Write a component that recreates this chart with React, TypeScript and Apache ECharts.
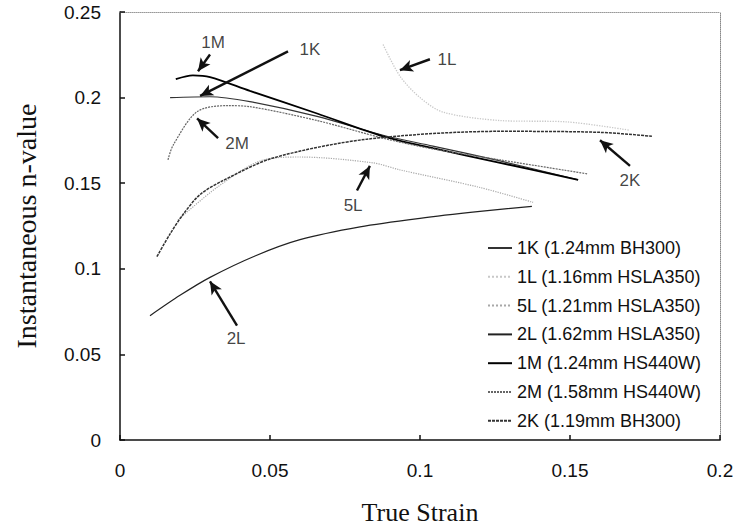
import React, { useEffect, useRef } from "react";
import * as echarts from "echarts";

const xTicks = [0, 0.05, 0.1, 0.15, 0.2];
const yTicks = [0, 0.05, 0.1, 0.15, 0.2, 0.25];

const names = [
  "1K (1.24mm BH300)",
  "1L (1.16mm HSLA350)",
  "5L (1.21mm HSLA350)",
  "2L (1.62mm HSLA350)",
  "1M (1.24mm HS440W)",
  "2M (1.58mm HS440W)",
  "2K (1.19mm BH300)",
];

const data1K = [[0.0167, 0.2], [0.03, 0.2005], [0.0433, 0.1976], [0.0657, 0.189], [0.0877, 0.178], [0.1043, 0.1717], [0.1267, 0.163], [0.1527, 0.152]];
const data1L = [[0.0877, 0.231], [0.0933, 0.2126], [0.1, 0.2], [0.1077, 0.1915], [0.1267, 0.1866], [0.149, 0.1858], [0.17, 0.1809]];
const data5L = [[0.0193, 0.1285], [0.0323, 0.1475], [0.0467, 0.163], [0.06, 0.1653], [0.0843, 0.1619], [0.0933, 0.1578], [0.12, 0.1475], [0.1377, 0.1388]];
const data2L = [[0.01, 0.0726], [0.02, 0.0845], [0.03, 0.095], [0.045, 0.1075], [0.06, 0.117], [0.08, 0.1245], [0.1, 0.1295], [0.12, 0.1335], [0.1373, 0.1365]];
const data1M = [[0.0186, 0.2108], [0.0243, 0.213], [0.03, 0.212], [0.0433, 0.2039], [0.0657, 0.1907], [0.0877, 0.1774], [0.1043, 0.1705], [0.1267, 0.1619], [0.1527, 0.152]];
const data2M = [[0.016, 0.1636], [0.0177, 0.1722], [0.0257, 0.1918], [0.0357, 0.1953], [0.0433, 0.1947], [0.0657, 0.1866], [0.0877, 0.1763], [0.1043, 0.17], [0.1267, 0.1636], [0.1557, 0.1555]];
const data2K = [[0.0123, 0.1071], [0.0167, 0.1204], [0.021, 0.1317], [0.0267, 0.1434], [0.0343, 0.1515], [0.051, 0.1647], [0.0823, 0.1757], [0.1267, 0.1803], [0.16, 0.1797], [0.1773, 0.1774]];

// annotations: label text, label position, arrow tail, arrow head (data coords)
const annLabels = ["1M", "1K", "1L", "2M", "5L", "2K", "2L"];
const annText = [[0.031, 0.2321], [0.0633, 0.2281], [0.109, 0.2224], [0.039, 0.1734], [0.0777, 0.1371], [0.17, 0.1515], [0.0387, 0.0593]];
const annTail = [[0.03, 0.2252], [0.056, 0.227], [0.1033, 0.2224], [0.0327, 0.1763], [0.079, 0.1457], [0.17, 0.1601], [0.039, 0.0668]];
const annHead = [[0.026, 0.2154], [0.0267, 0.201], [0.0933, 0.216], [0.0257, 0.1878], [0.0833, 0.1601], [0.16, 0.1751], [0.03, 0.0927]];

const seriesData = [data1K, data1L, data5L, data2L, data1M, data2M, data2K];
const styles = [
  { color: "#333", width: 1.2, type: "solid" },
  { color: "#c8c8c8", width: 1.3, type: "dotted" },
  { color: "#a8a8a8", width: 1.2, type: "dotted" },
  { color: "#222", width: 1.2, type: "solid" },
  { color: "#000", width: 1.8, type: "solid" },
  { color: "#666", width: 1.2, type: [2, 1] },
  { color: "#333", width: 1.5, type: [3, 1] },
];

export default function App() {
  const ref = useRef<HTMLDivElement>(null);
  useEffect(() => {
    if (!ref.current) return;
    const chart = echarts.init(ref.current, null, { renderer: "svg" });
    const sans = "Liberation Sans";
    const serif = "Liberation Serif";
    const lineSeries = names.map((n, i) => ({
      name: n,
      type: "line",
      data: seriesData[i],
      smooth: 0.3,
      symbol: "none",
      showSymbol: false,
      lineStyle: styles[i],
      itemStyle: { color: styles[i].color },
      xAxisIndex: 0,
      yAxisIndex: 0,
      silent: true,
      z: 2,
    }));
    const annSeries = {
      name: "annotations",
      type: "scatter",
      xAxisIndex: 0,
      yAxisIndex: 0,
      symbolSize: 0,
      silent: true,
      data: annLabels.map((t, i) => ({ value: annText[i], name: t })),
      label: {
        show: true,
        position: "inside",
        formatter: (p: any) => p.name,
        color: "#111",
        fontSize: 17,
        fontFamily: sans,
      },
      markLine: {
        silent: true,
        symbol: ["none", "arrow"],
        symbolSize: [9, 13],
        lineStyle: { color: "#111", width: 2.4, type: "solid" },
        label: { show: false },
        data: annTail.map((t, i) => [{ coord: t }, { coord: annHead[i] }]),
      },
    };
    chart.setOption({
      animation: false,
      grid: { left: 120, right: 17, top: 12, bottom: 84, containLabel: false },
      legend: {
        data: names,
        orient: "vertical",
        left: 487,
        top: 239,
        padding: 0,
        itemWidth: 24,
        itemHeight: 14,
        itemGap: 10.8,
        itemStyle: { opacity: 0 },
        textStyle: { fontSize: 18, fontFamily: sans, color: "#111" },
        selectedMode: false,
      },
      xAxis: [
        {
          type: "value",
          min: xTicks[0],
          max: xTicks[xTicks.length - 1],
          interval: 0.05,
          name: "True Strain",
          nameLocation: "middle",
          nameGap: 59,
          nameTextStyle: { fontSize: 26, fontFamily: serif, color: "#111" },
          axisLine: { lineStyle: { color: "#111", width: 1.5 } },
          axisTick: { inside: true, length: 5, lineStyle: { color: "#111", width: 1.5 } },
          axisLabel: { margin: 21, fontSize: 19, fontFamily: sans, color: "#111" },
          splitLine: { show: false },
        },
        {
          type: "value",
          position: "top",
          min: xTicks[0],
          max: xTicks[xTicks.length - 1],
          axisLine: { show: true, onZero: false, lineStyle: { color: "#999", width: 1, type: "dotted" } },
          axisTick: { show: false },
          axisLabel: { show: false },
          splitLine: { show: false },
        },
      ],
      yAxis: [
        {
          type: "value",
          min: yTicks[0],
          max: yTicks[yTicks.length - 1],
          interval: 0.05,
          name: "Instantaneous n-value",
          nameLocation: "middle",
          nameGap: 80,
          nameRotate: 90,
          nameTextStyle: { fontSize: 28, fontFamily: serif, color: "#111" },
          axisLine: { show: true, lineStyle: { color: "#111", width: 1.5 } },
          axisTick: { show: true, inside: true, length: 5, lineStyle: { color: "#111", width: 1.5 } },
          axisLabel: { margin: 19, fontSize: 19, fontFamily: sans, color: "#111" },
          splitLine: { show: false },
        },
        {
          type: "value",
          position: "right",
          min: yTicks[0],
          max: yTicks[yTicks.length - 1],
          axisLine: { show: true, onZero: false, lineStyle: { color: "#888", width: 1, type: "dotted" } },
          axisTick: { show: false },
          axisLabel: { show: false },
          splitLine: { show: false },
        },
      ],
      series: [...lineSeries, annSeries],
    });
    return () => chart.dispose();
  }, []);
  return (
    <div
      ref={ref}
      style={{ position: "fixed", left: 0, top: 0, width: 737, height: 530, background: "#fff" }}
    />
  );
}
